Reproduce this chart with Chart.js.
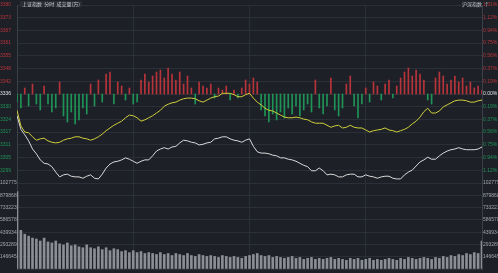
<!DOCTYPE html>
<html>
<head>
<meta charset="utf-8">
<script src="https://cdn.jsdelivr.net/npm/chart.js@4.4.1/dist/chart.umd.min.js"></script>
<style>
    html, body { margin: 0; padding: 0; background: #1d2027; }
    #wrap { position: relative; width: 498px; height: 273px; overflow: hidden; background: #1d2027; }
    #wrap canvas { position: absolute; left: 0; top: 0; }
    .t { position: absolute; font: 5px "Noto Sans CJK SC", sans-serif; color: #c9cbd1; white-space: nowrap; line-height: 6px; }
</style>
</head>
<body>
<div id="wrap">
    <canvas id="priceChart" width="498" height="273"></canvas>
    <canvas id="volChart" width="498" height="273"></canvas>
    <div class="t" style="left:20px;top:1px;background:#2a2d35;padding:0 2px">上证指数&nbsp;&nbsp;分时&nbsp;&nbsp;成交量(万)</div>
    <div class="t" style="left:462px;top:1px">沪深指数&nbsp;&nbsp;↑</div>
</div>
<script>
// tick labels, top to bottom
const leftLabels = ['3380', '3373', '3367', '3361', '3355', '3348', '3342', '3336',
    '3330', '3324', '3317', '3311', '3305', '3299', ''];
const rightLabels = ['1.31%', '1.12%', '0.94%', '0.75%', '0.56%', '0.37%', '0.19%', '0.00%',
    '0.19%', '0.37%', '0.56%', '0.75%', '0.94%', '1.12%', ''];
const volLabels = ['102775', '879868', '733223', '586578', '439934', '293289', '146645', ''];

const pctTicks = [-1.31, -1.123, -0.936, -0.749, -0.561, -0.374, -0.187, 0,
    0.187, 0.374, 0.561, 0.749, 0.936, 1.123, 1.31];
const volTicks = [0, 146645, 293289, 439934, 586578, 733223, 879868, 1026512];

// index change in % (white) and equal-weight index (yellow), every 2 minutes
const indexPct = [
    -0.32, -0.52, -0.60, -0.69, -0.81, -0.88, -0.97, -1.02, -1.03, -1.07,
    -1.15, -1.22, -1.19, -1.18, -1.21, -1.22, -1.22, -1.24, -1.21, -1.19,
    -1.24, -1.25, -1.18, -1.09, -1.03, -1.00, -0.99, -0.97, -0.94, -0.96,
    -0.99, -1.02, -0.99, -0.97, -0.97, -0.91, -0.84, -0.81, -0.79, -0.81,
    -0.78, -0.77, -0.72, -0.68, -0.69, -0.71, -0.72, -0.75, -0.74, -0.72,
    -0.71, -0.66, -0.65, -0.63, -0.63, -0.66, -0.68, -0.69, -0.71, -0.68,
    -0.66, -0.77, -0.85, -0.87, -0.87, -0.88, -0.90, -0.91, -0.94, -0.94,
    -0.96, -0.97, -0.99, -1.02, -1.05, -1.07, -1.13, -1.13, -1.09, -1.13,
    -1.19, -1.18, -1.19, -1.22, -1.22, -1.19, -1.18, -1.18, -1.22, -1.22,
    -1.19, -1.21, -1.22, -1.24, -1.22, -1.21, -1.21, -1.24, -1.25, -1.25,
    -1.19, -1.15, -1.12, -1.06, -1.00, -0.97, -0.93, -0.96, -0.96, -0.91,
    -0.87, -0.84, -0.82, -0.81, -0.79, -0.81, -0.82, -0.82, -0.82, -0.81,
    -0.78
];
const avgPct = [
    -0.24, -0.47, -0.56, -0.57, -0.63, -0.68, -0.66, -0.65, -0.69, -0.71,
    -0.72, -0.71, -0.68, -0.66, -0.65, -0.63, -0.63, -0.65, -0.66, -0.68,
    -0.66, -0.63, -0.59, -0.54, -0.50, -0.46, -0.43, -0.40, -0.35, -0.31,
    -0.32, -0.35, -0.40, -0.38, -0.35, -0.32, -0.28, -0.24, -0.18, -0.15,
    -0.13, -0.12, -0.09, -0.07, -0.06, -0.06, -0.07, -0.10, -0.12, -0.09,
    -0.06, -0.04, -0.03, 0.01, 0.01, 0.01, -0.01, -0.04, -0.04, -0.01,
    0.01, -0.06, -0.12, -0.16, -0.21, -0.24, -0.25, -0.28, -0.31, -0.34,
    -0.35, -0.35, -0.34, -0.35, -0.37, -0.38, -0.41, -0.43, -0.43, -0.43,
    -0.46, -0.49, -0.47, -0.46, -0.50, -0.49, -0.46, -0.49, -0.50, -0.50,
    -0.53, -0.56, -0.54, -0.53, -0.52, -0.50, -0.53, -0.54, -0.56, -0.54,
    -0.52, -0.49, -0.44, -0.40, -0.34, -0.26, -0.21, -0.28, -0.28, -0.25,
    -0.19, -0.16, -0.13, -0.10, -0.09, -0.09, -0.10, -0.12, -0.12, -0.10,
    -0.09
];
// buy/sell strength bars around the zero line
const strength = [
    -8, -14, 6, -12, 10, -10, -16, 8, -10, -18,
    -14, 12, -22, -28, -18, -30, -26, -14, -20, 10,
    -12, 14, -8, 20, 22, -10, 12, 8, -6, 6,
    -10, -8, 14, 20, 12, 18, 22, 24, 16, 26,
    20, 14, 22, 10, 18, 6, -10, 12, 8, 6,
    10, -4, 6, 4, 8, -6, 4, -4, 6, 14,
    10, 16, 12, -16, -22, -28, -20, -26, -18, -24,
    -14, -20, -12, -22, -16, -10, -18, 14, -14, -20,
    -12, 16, -16, -22, -14, 10, 18, -12, -24, -10,
    6, -8, 12, 8, -6, 10, 14, -4, 8, 16,
    22, 26, 18, 24, 20, 14, -6, -10, 16, 22,
    18, 10, 14, 18, 12, 16, 8, 12, 6, 8,
    4
];
const volume = [
    923000, 461000, 415000, 392000, 369000, 358000, 334000, 369000, 323000, 311000,
    334000, 300000, 288000, 311000, 277000, 288000, 265000, 254000, 288000, 254000,
    242000, 265000, 231000, 254000, 219000, 242000, 231000, 208000, 219000, 196000,
    219000, 196000, 208000, 185000, 196000, 185000, 173000, 196000, 173000, 185000,
    161000, 185000, 173000, 161000, 185000, 161000, 150000, 173000, 161000, 150000,
    161000, 150000, 138000, 161000, 150000, 138000, 150000, 138000, 127000, 150000,
    161000, 173000, 185000, 161000, 150000, 161000, 138000, 150000, 138000, 127000,
    138000, 150000, 127000, 138000, 115000, 127000, 138000, 115000, 127000, 115000,
    127000, 138000, 115000, 127000, 115000, 104000, 127000, 115000, 127000, 104000,
    115000, 127000, 104000, 115000, 104000, 115000, 127000, 115000, 104000, 127000,
    115000, 138000, 127000, 115000, 127000, 138000, 127000, 115000, 138000, 127000,
    150000, 138000, 161000, 150000, 173000, 161000, 185000, 173000, 196000, 185000,
    334000
];

const minutes = indexPct.map((_, i) => i * 2);
const RED = '#b8343b';
const GREEN = '#1f9457';
const GRID = '#2b2f37';
const EDGE = '#3c4049';

const xAxis = {
    type: 'linear', min: 0, max: 240,
    offset: false,
    ticks: { display: false },
    afterBuildTicks: s => { s.ticks = [0, 60, 120, 180, 240].map(v => ({ value: v })); },
    grid: { color: c => (c.tick && (c.tick.value === 0 || c.tick.value === 240)) ? EDGE : GRID, drawTicks: false, lineWidth: 1, offset: false },
    border: { display: false },
    afterFit: s => { s.height = 0; }
};

function sideAxis(position, labels, ticks, colorFn, width, showGrid) {
    return {
        position: position,
        min: ticks[0],
        max: ticks[ticks.length - 1],
        afterBuildTicks: s => { s.ticks = ticks.map(v => ({ value: v })); },
        ticks: {
            autoSkip: false,
            font: { size: 5, family: 'Liberation Sans' },
            padding: 1,
            crossAlign: position === 'left' ? 'far' : 'near',
            color: colorFn,
            callback: (v, i) => labels[labels.length - 1 - i]
        },
        grid: { display: showGrid, color: GRID, drawTicks: false },
        border: { display: true, color: EDGE },
        afterFit: s => { s.width = width; }
    };
}

const pctColor = c => c.tick.value > 0.001 ? RED : (c.tick.value < -0.001 ? GREEN : '#e2e2e2');

new Chart(document.getElementById('priceChart'), {
    type: 'bar',
    data: {
        datasets: [
            {
                type: 'line',
                data: indexPct.map((v, i) => ({ x: minutes[i], y: v })),
                yAxisID: 'y',
                borderColor: '#d9d9dc',
                borderWidth: 1,
                pointRadius: 0,
                order: 1
            },
            {
                type: 'line',
                data: avgPct.map((v, i) => ({ x: minutes[i], y: v })),
                yAxisID: 'y',
                borderColor: '#cfcf3a',
                borderWidth: 1,
                pointRadius: 0,
                order: 0
            },
            {
                type: 'bar',
                data: strength.map((v, i) => ({ x: minutes[i], y: v })),
                yAxisID: 'yb',
                backgroundColor: strength.map(v => v >= 0 ? RED : GREEN),
                barThickness: 1,
                order: 2
            }
        ]
    },
    options: {
        responsive: false,
        animation: false,
        devicePixelRatio: 1,
        layout: { padding: { top: 5, bottom: 90, left: 0, right: 0 } },
        plugins: { legend: { display: false }, tooltip: { enabled: false } },
        scales: {
            x: xAxis,
            y: sideAxis('left', leftLabels, pctTicks, pctColor, 17, true),
            yr: sideAxis('right', rightLabels, pctTicks, pctColor, 16, false),
            yb: { display: false, min: -89, max: 89 }
        }
    }
});

new Chart(document.getElementById('volChart'), {
    type: 'bar',
    data: {
        datasets: [{
            data: volume.map((v, i) => ({ x: minutes[i], y: v })),
            backgroundColor: '#8b8e95',
            barThickness: 2
        }]
    },
    options: {
        responsive: false,
        animation: false,
        devicePixelRatio: 1,
        layout: { padding: { top: 183, bottom: 1, left: 0, right: 0 } },
        plugins: { legend: { display: false }, tooltip: { enabled: false } },
        scales: {
            x: xAxis,
            y: sideAxis('left', volLabels, volTicks, '#a3a6ad', 17, true),
            yr: sideAxis('right', volLabels, volTicks, '#a3a6ad', 16, false)
        }
    }
});
</script>
</body>
</html>
